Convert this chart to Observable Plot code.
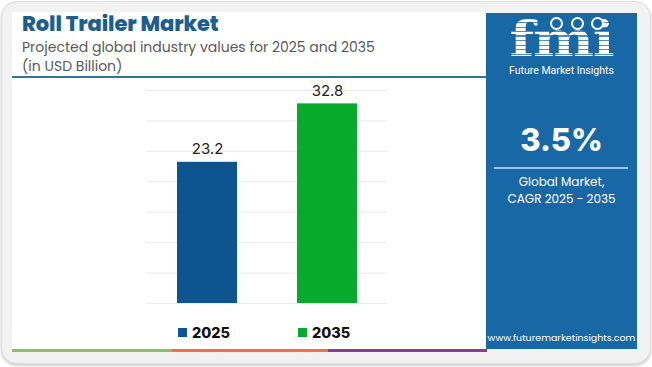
<!DOCTYPE html>
<html><head><meta charset="utf-8">
<script src="https://cdn.jsdelivr.net/npm/d3@7"></script>
<script src="https://cdn.jsdelivr.net/npm/@observablehq/plot@0.6"></script>
<style>
html,body{margin:0;padding:0;background:#fff;width:652px;height:367px;overflow:hidden;font-family:Poppins,"Open Sans",Roboto,sans-serif;}
#frame{position:absolute;left:1px;top:1px;width:648px;height:361px;border-radius:16px;background:#f2f2f2;border:1px solid #dcdcdc;box-shadow:0 2px 3px rgba(0,0,0,0.18);}
#card{position:absolute;left:12px;top:12px;width:475px;height:340px;background:#fff;}
#title{position:absolute;left:22px;top:12px;font-size:21px;line-height:24px;font-weight:800;color:#1c5e8f;letter-spacing:-0.1px;font-family:Poppins,Inter,Roboto,sans-serif;}
#sub{position:absolute;left:22px;top:38px;font-size:14px;color:#5a5a5a;line-height:19px;}
#hr{position:absolute;left:12px;top:76px;width:475px;height:2px;background:#2f73a6;}
#chart{position:absolute;left:12px;top:80px;}
#legend{position:absolute;top:323px;left:0;width:652px;height:18px;font-family:Inter,Roboto,sans-serif;font-weight:800;font-size:14.5px;color:#111;}
.li{position:absolute;top:0;display:flex;align-items:center;height:18px;}
.sw{width:9px;height:9px;margin-right:5px;}
#bar{position:absolute;left:12px;top:349px;height:3px;width:475px;display:flex;}
#panel{position:absolute;left:486px;top:13px;width:151px;height:336px;background:#1868a6;color:#fff;text-align:center;}
#fmi{position:absolute;left:0;width:151px;top:6px;height:40px;font-family:"DejaVu Serif",serif;font-weight:bold;font-size:48px;line-height:40px;letter-spacing:-1px;transform:scaleX(1.2);
 background:repeating-linear-gradient(#fff 0 3px, rgba(255,255,255,0.25) 3px 4.5px);-webkit-background-clip:text;background-clip:text;color:transparent;}
#fmisub{position:absolute;left:0;width:151px;top:52px;font-size:10.5px;line-height:12px;font-family:Roboto,sans-serif;}
#cagr{position:absolute;left:0;width:151px;top:108px;font-size:31px;font-weight:800;font-family:Inter,Roboto,sans-serif;}
#pline{position:absolute;left:8px;width:134px;top:154px;height:2px;background:#9cc3e6;}
#gm{position:absolute;left:0;width:151px;top:160px;font-size:12px;line-height:17px;}
#url{position:absolute;left:0;width:151px;top:318px;font-size:9.5px;}
.dot{position:absolute;width:9px;height:9px;border:2px solid #fff;border-radius:50%;background:#1868a6;}
</style></head>
<body>
<div id="frame"></div>
<div id="card"></div>
<div id="title">Roll Trailer Market</div>
<div id="sub">Projected global industry values for 2025 and 2035<br>(in USD Billion)</div>
<div id="hr"></div>
<div id="chart"></div>
<div id="legend"></div>
<div id="bar"></div>
<div id="panel">
  <div id="fmi">fmi</div>
  <div class="dot" style="left:64px;top:4px"></div>
  <div class="dot" style="left:85px;top:4px"></div>
  <div class="dot" style="left:105px;top:4px"></div>
  <div id="fmisub">Future Market Insights</div>
  <div id="cagr">3.5%</div>
  <div id="pline"></div>
  <div id="gm">Global Market,<br>CAGR 2025 - 2035</div>
  <div id="url">www.futuremarketinsights.com</div>
</div>
<script>
const years = ["2025", "2035"];
const values = [23.2, 32.8];
const barColors = ["#0c5591", "#08aa2c"];
const gridTicks = [0, 5, 10, 15, 20, 25, 30, 35];
const stripeColors = ["#8fc15a", "#ec7440", "#8c3a92"];
const stripeWidths = [160, 156, 159];

const data = years.map((y, i) => ({year: y, value: values[i], color: barColors[i]}));

const chart = Plot.plot({
  width: 475,
  height: 240,
  marginLeft: 134,
  marginRight: 100,
  marginTop: 10,
  marginBottom: 17,
  x: {domain: years, paddingInner: 0.5, paddingOuter: 0.25, axis: null},
  y: {domain: [0, 35], axis: null},
  marks: [
    Plot.ruleY(gridTicks, {stroke: "#ebebeb", strokeWidth: 1}),
    Plot.barY(data, {x: "year", y: "value", fill: "color"}),
    Plot.text(data, {x: "year", y: "value", text: d => d.value.toFixed(1), dy: -13, fontSize: 15, fill: "#222", fontFamily: "Inter, Roboto, sans-serif"})
  ]
});
document.getElementById("chart").appendChild(chart);

const xs = chart.scale("x");
const leg = document.getElementById("legend");
years.forEach((y, i) => {
  const cx = 12 + xs.apply(y);
  const el = document.createElement("div");
  el.className = "li";
  el.style.left = (cx + 1) + "px";
  el.innerHTML = `<div class="sw" style="background:${barColors[i]}"></div>${y}`;
  leg.appendChild(el);
});
const bar = document.getElementById("bar");
stripeColors.forEach((c, i) => {
  const s = document.createElement("div");
  s.style.background = c; s.style.width = stripeWidths[i] + "px"; s.style.height = "3px";
  bar.appendChild(s);
});
</script>
</body></html>
